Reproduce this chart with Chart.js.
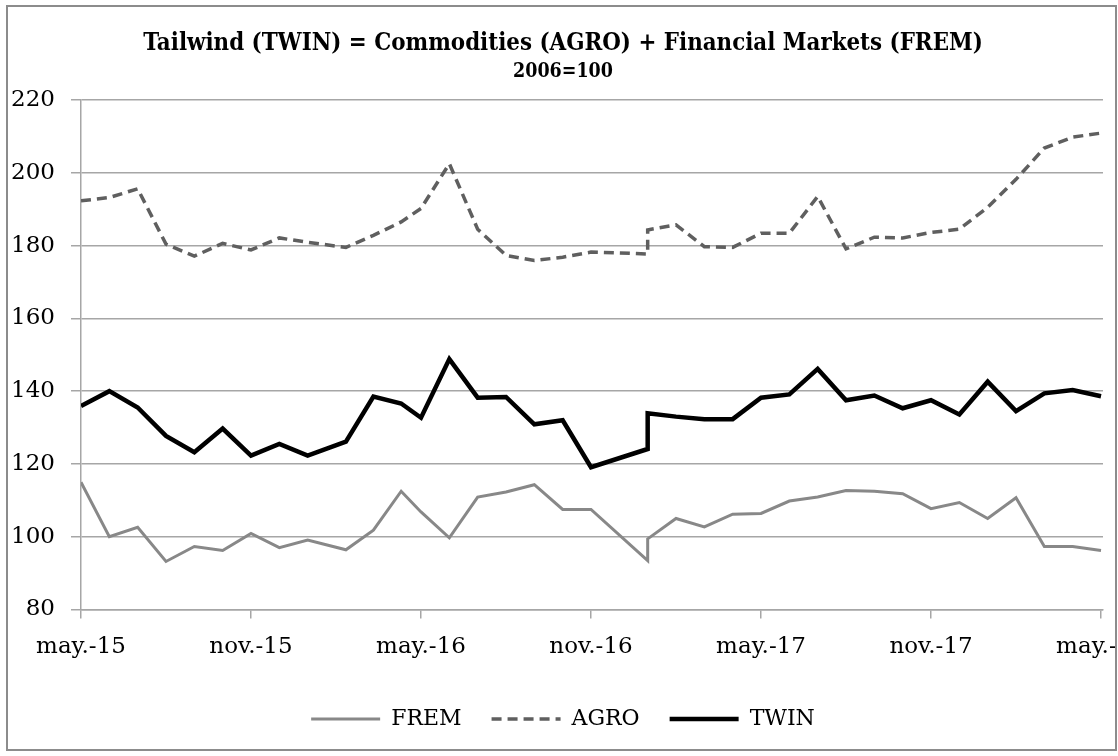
<!DOCTYPE html>
<html>
<head>
<meta charset="utf-8">
<script src="https://cdn.jsdelivr.net/npm/chart.js@4.4.1/dist/chart.umd.min.js"></script>
<style>
  html, body { margin: 0; padding: 0; background: #fff; }
  #frame { position: absolute; left: 6px; top: 5px; width: 1107px; height: 742px; border: 2px solid #8c8c8c; overflow: hidden; background: #fff; }
  #chart { position: absolute; left: -8px; top: -7px; }
</style>
</head>
<body>
<div id="frame"><canvas id="chart" width="1170" height="756"></canvas></div>
<script>
'use strict';

// months counted from may-15 (0) ; jan-17 appears twice in the source series
var months = [0, 1, 2, 3, 4, 5, 6, 7, 8, 9.35, 10.32, 11.3, 12, 13, 14, 15, 16, 17, 18,
  20, 20, 21, 22, 23, 24, 25, 26, 27, 28, 29, 30, 31, 32, 33, 34, 35, 36];

var fremValues = [115.0, 100.0, 102.6, 93.2, 97.3, 96.2, 100.9, 97.0, 99.1, 96.4, 101.8, 112.5,
  106.8, 99.7, 110.9, 112.3, 114.3, 107.5, 107.5, 93.4, 99.4, 105.0, 102.7, 106.2, 106.4,
  109.8, 110.9, 112.7, 112.5, 111.8, 107.7, 109.4, 105.0, 110.7, 97.3, 97.3, 96.2];

var agroValues = [192.3, 193.2, 195.6, 180.4, 177.1, 180.6, 178.8, 182.1, 180.9, 179.5, 182.8, 186.5,
  190.2, 202.5, 184.5, 177.3, 175.9, 176.8, 178.2, 177.7, 184.3, 185.7, 179.7, 179.5, 183.4,
  183.4, 193.5, 179.1, 182.3, 182.1, 183.6, 184.5, 190.5, 198.2, 206.8, 209.8, 210.9];

var twinValues = [135.9, 140.0, 135.5, 127.7, 123.2, 129.7, 122.3, 125.5, 122.3, 126.1, 138.5, 136.6,
  132.7, 148.8, 138.2, 138.4, 130.9, 132.0, 119.1, 124.1, 133.9, 133.0, 132.3, 132.3, 138.2,
  139.1, 146.1, 137.5, 138.8, 135.3, 137.5, 133.6, 142.6, 134.5, 139.4, 140.3, 138.6];

var tickSteps = [0, 6, 12, 18, 24, 30, 36];
var tickLabels = ['may.-15', 'nov.-15', 'may.-16', 'nov.-16', 'may.-17', 'nov.-17', 'may.-18'];

var titleText = 'Tailwind (TWIN) = Commodities (AGRO) + Financial Markets (FREM)';
var subtitleText = '2006=100';

var fontFamily = "'DejaVu Serif', serif";
var titleFamily = "'DejaVu Serif Condensed', 'DejaVu Serif', serif";
var gridColor = '#a6a6a6';

var toPoints = function toPoints(values) {
  return months.map(function(m, i) {
    return { x: m, y: values[i] };
  });
};

// pick a font size so the text is about as wide as in the picture
var fitFontSize = function fitFontSize(text, family, targetWidth) {
  var ctx = document.createElement('canvas').getContext('2d');
  ctx.font = 'bold 20px ' + family;
  return 20 * targetWidth / ctx.measureText(text).width;
};

var titleSize = fitFontSize(titleText, titleFamily, 840);
var subtitleSize = fitFontSize(subtitleText, titleFamily, 100);
var titleTop = 44 - titleSize * 0.6;
var subtitleTop = 71.7 - subtitleSize * 0.6;

// legend samples: keep the dash of each line
var legendLabels = function legendLabels(chart) {
  var items = Chart.defaults.plugins.legend.labels.generateLabels(chart);
  items.forEach(function(item) {
    var ds = chart.data.datasets[item.datasetIndex];
    item.lineDash = ds.borderDash || [];
    item.lineWidth = ds.borderWidth;
    item.strokeStyle = ds.borderColor;
  });
  return items;
};

var chart = new Chart(document.getElementById('chart'), {
  type: 'line',
  data: {
    datasets: [{
      label: 'FREM',
      data: toPoints(fremValues),
      borderColor: '#888888',
      borderWidth: 3,
      pointRadius: 0,
      tension: 0
    }, {
      label: 'AGRO',
      data: toPoints(agroValues),
      borderColor: '#5f5f5f',
      borderWidth: 3.5,
      borderDash: [10, 6],
      pointRadius: 0,
      tension: 0
    }, {
      label: 'TWIN',
      data: toPoints(twinValues),
      borderColor: '#000000',
      borderWidth: 4.5,
      pointRadius: 0,
      tension: 0
    }]
  },
  options: {
    responsive: false,
    animation: false,
    devicePixelRatio: 1,
    layout: { padding: { left: 8, right: 52, top: 0, bottom: 16 } },
    plugins: {
      title: {
        display: true,
        text: titleText,
        color: '#000',
        font: { family: titleFamily, size: titleSize, weight: 'bold', lineHeight: 1.2 },
        padding: { top: titleTop, bottom: 0 }
      },
      subtitle: {
        display: true,
        text: subtitleText,
        color: '#000',
        font: { family: titleFamily, size: subtitleSize, weight: 'bold', lineHeight: 1.2 },
        padding: { top: subtitleTop - (titleTop + titleSize * 1.2), bottom: 100 - (subtitleTop + subtitleSize * 1.2) }
      },
      legend: {
        position: 'bottom',
        labels: {
          usePointStyle: true,
          pointStyle: 'line',
          pointStyleWidth: 69,
          padding: 30,
          color: '#000',
          font: { family: fontFamily, size: 22 },
          generateLabels: legendLabels
        }
      },
      tooltip: { enabled: false }
    },
    scales: {
      x: {
        type: 'linear',
        min: 0,
        max: 36.07,
        afterBuildTicks: function(scale) {
          scale.ticks = tickSteps.map(function(v) { return { value: v }; });
        },
        afterFit: function(scale) { scale.height = 68.5; },
        grid: { drawOnChartArea: false, drawTicks: true, tickLength: 9, color: gridColor, lineWidth: 1.5 },
        border: { color: gridColor, width: 1.5 },
        ticks: {
          autoSkip: false,
          maxRotation: 0,
          padding: 15,
          color: '#000',
          font: { family: fontFamily, size: 23 },
          callback: function(value, index) { return tickLabels[index]; }
        }
      },
      y: {
        min: 80,
        max: 220,
        afterFit: function(scale) { scale.width = 73; },
        grid: { color: gridColor, lineWidth: 1.5, tickLength: 10 },
        border: { color: gridColor, width: 1.5 },
        ticks: {
          stepSize: 20,
          padding: 16,
          color: '#000',
          font: { family: fontFamily, size: 23 }
        }
      },
      // empty spacer on the right so the plot ends where the picture's does
      spacer: {
        position: 'right',
        grid: { display: false },
        border: { display: false },
        ticks: { display: false },
        afterFit: function(scale) { scale.width = 15; }
      }
    }
  }
});
</script>
</body>
</html>
